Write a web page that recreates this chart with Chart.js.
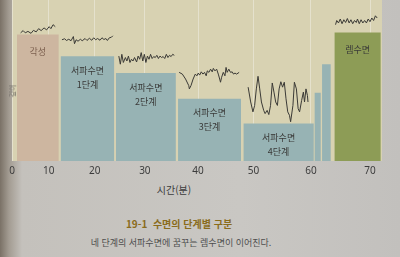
<!DOCTYPE html>
<html lang="ko">
<head>
<meta charset="utf-8">
<script src="https://cdn.jsdelivr.net/npm/chart.js@4.4.1/dist/chart.umd.min.js"></script>
<style>
    html, body {
        margin: 0;
        width: 400px;
        height: 257px;
        overflow: hidden;
    }
    body {
        position: relative;
        font-family: "Noto Sans CJK KR", "Noto Sans", sans-serif;
        background: linear-gradient(to right, #7a7166 0px, #a39c92 9px, #c4c1bc 22px, #c9c7c3 60%, #c2c0bd 100%);
    }
    #plot {
        position: absolute;
        left: 0;
        top: 0;
        width: 400px;
        height: 181px;
    }
    .txt {
        position: absolute;
        white-space: nowrap;
        transform: translateX(-50%);
    }
    #ylab {
        left: 12px;
        top: 86px;
        font-size: 7px;
        color: #6b6862;
        transform: translateX(-50%) rotate(-90deg);
    }
    #xlab {
        left: 174px;
        top: 182px;
        font-size: 10px;
        color: #3c3c3c;
    }
    #cap1 {
        left: 179px;
        top: 216px;
        font-size: 10px;
        font-weight: bold;
        color: #8a6c1c;
    }
    #cap2 {
        left: 181px;
        top: 236px;
        font-size: 9px;
        color: #4e4e4e;
    }
</style>
</head>
<body>
<div id="plot"><canvas id="chart"></canvas></div>
<div class="txt" id="ylab">깊이</div>
<div class="txt" id="xlab">시간(분)</div>
<div class="txt" id="cap1">19-1&nbsp; 수면의 단계별 구분</div>
<div class="txt" id="cap2">네 단계의 서파수면에 꿈꾸는 렘수면이 이어진다.</div>

<script>
// Sleep stages: start / end in minutes, level = how "light" the sleep is
const stageNames = ['각성', '서파수면\n1단계', '서파수면\n2단계', '서파수면\n3단계', '서파수면\n4단계', '', '', '렘수면'];
const stageStart = [1.8, 12.7, 24.3, 36.3, 48.2, 60.6, 61.9, 64.0];
const stageEnd = [12.3, 24.0, 35.9, 47.8, 60.5, 61.7, 63.4, 71.8];
const stageLevel = [5.12, 4.24, 3.56, 2.52, 1.52, 2.76, 3.92, 5.2];

const xTicks = [0, 10, 20, 30, 40, 50, 60, 70];

// EEG traces drawn over each stage: [minute, level]
const awakeWave = [[2.9, 5.19], [3.6, 5.28], [4.2, 5.19], [4.9, 5.25], [5.7, 5.17], [6.3, 5.29], [7.0, 5.23], [7.6, 5.36],
    [8.2, 5.28], [8.9, 5.39], [9.5, 5.31], [10.1, 5.44], [10.5, 5.36], [11.0, 5.52], [11.5, 5.44]];
const stage1Wave = [[13.0, 4.91], [13.6, 4.95], [14.0, 4.88], [14.5, 4.93], [15.0, 4.87], [15.5, 5.04], [15.75, 4.75], [16.1, 4.91],
    [16.5, 4.85], [17.0, 4.93], [17.4, 4.87], [18.0, 4.96], [18.4, 4.88], [18.9, 4.97], [19.4, 4.89], [19.8, 4.99],
    [20.2, 4.91], [20.6, 4.96], [21.1, 4.89], [21.5, 4.99], [21.9, 4.92], [22.3, 4.96], [22.6, 4.88], [23.0, 4.99],
    [23.4, 5.01], [23.7, 5.07]];
const stage2Wave = [[24.9, 4.25], [25.2, 3.92], [25.5, 4.32], [25.8, 3.99], [26.2, 4.19], [26.5, 4.05], [26.8, 4.25], [27.1, 3.99],
    [27.4, 4.12], [27.7, 4.05], [28.0, 4.19], [28.4, 4.01], [28.7, 4.25], [29.0, 4.12], [29.3, 4.39], [29.6, 4.05],
    [29.9, 4.32], [30.2, 3.99], [30.5, 4.25], [30.8, 4.12], [31.1, 4.32], [31.4, 4.15], [31.7, 4.23], [32.0, 4.19],
    [32.3, 4.28], [32.6, 4.15], [32.9, 4.25], [33.2, 4.19], [33.5, 4.23], [33.8, 4.15], [34.1, 4.32], [34.4, 4.19],
    [34.7, 4.28], [35.0, 4.23], [35.3, 4.32], [35.6, 4.28]];
const stage3Wave = [[36.5, 3.59], [37.1, 3.52], [37.7, 3.32], [38.3, 3.05], [38.4, 2.92], [38.7, 3.05], [39.1, 3.32], [39.5, 3.52],
    [39.8, 3.45], [40.05, 3.56], [40.3, 3.48], [40.6, 3.61], [40.9, 3.52], [41.2, 3.59], [41.5, 3.45], [41.7, 3.65],
    [42.0, 3.59], [42.3, 3.72], [42.6, 3.61], [42.8, 3.75], [43.1, 3.65], [43.4, 3.72], [43.7, 3.52], [43.95, 3.32],
    [44.1, 3.19], [44.3, 3.39], [44.6, 3.59], [44.9, 3.45], [45.1, 3.79], [45.3, 3.59], [45.6, 3.72], [45.9, 3.59],
    [46.2, 3.61], [46.45, 3.52], [46.7, 3.56], [47.0, 3.52], [47.45, 3.59]];
const stage4Wave = [[49.05, 2.99], [49.5, 2.39], [49.9, 1.99], [50.2, 2.25], [50.5, 2.92], [50.8, 3.43], [51.1, 2.92], [51.4, 2.39],
    [51.8, 2.05], [52.05, 1.92], [52.4, 2.05], [52.7, 1.88], [53.0, 2.25], [53.3, 3.16], [53.6, 2.79], [53.9, 2.39],
    [54.2, 2.25], [54.5, 2.92], [54.8, 3.21], [55.1, 2.99], [55.4, 3.19], [55.7, 2.52], [56.0, 1.99], [56.3, 1.85],
    [56.5, 1.59], [56.9, 2.25], [57.15, 3.19], [57.5, 2.92], [57.8, 2.12], [58.05, 1.99], [58.4, 2.45], [58.7, 2.79],
    [58.9, 2.39], [59.15, 2.92], [59.4, 2.65], [59.5, 2.39]];
const remWave = [[64.2, 5.52], [64.4, 5.69], [64.7, 5.59], [65.0, 5.75], [65.3, 5.56], [65.6, 5.72], [65.9, 5.61], [66.2, 5.77],
    [66.5, 5.59], [66.8, 5.72], [67.1, 5.56], [67.4, 5.69], [67.7, 5.61], [67.9, 5.75], [68.2, 5.56], [68.5, 5.72],
    [68.8, 5.59], [69.1, 5.69], [69.4, 5.59], [69.7, 5.75], [70.0, 5.64], [70.3, 5.79], [70.6, 5.69], [70.9, 5.88],
    [71.2, 5.79]];

// Styles
const AWAKE_COLOR = '#cdb6a0';
const SWS_COLOR = '#97b3b4';
const REM_COLOR = '#8d9c56';
const PLOT_BG = '#d8d2b2';
const WAVE_COLOR = '#3b3a36';
const PAGE_BEND = 1.17; // photo of a curved page: the axis is stretched to the right

// Linear scale with the page curvature of the photo
class PageScale extends Chart.LinearScale {
    getPixelForValue(value) {
        if (value === null || value === undefined || isNaN(value)) return NaN;
        const d = (value - this._startValue) / this._valueRange;
        return this.getPixelForDecimal(Math.sign(d) * Math.pow(Math.abs(d), PAGE_BEND));
    }
    getValueForPixel(pixel) {
        const d = this.getDecimalForPixel(pixel);
        return this._startValue + Math.sign(d) * Math.pow(Math.abs(d), 1 / PAGE_BEND) * this._valueRange;
    }
}
PageScale.id = 'page';
Chart.register(PageScale);

function stageColor(i) {
    if (i === 0) return AWAKE_COLOR;
    if (i === stageNames.length - 1) return REM_COLOR;
    return SWS_COLOR;
}

const datasets = [];

stageNames.forEach((name, i) => {
    datasets.push({
        data: [{ x: stageStart[i], y: stageLevel[i] }, { x: stageEnd[i], y: stageLevel[i] }],
        backgroundColor: stageColor(i),
        borderWidth: 0,
        pointRadius: 0,
        fill: 'origin',
        tension: 0
    });
});

[awakeWave, stage1Wave, stage2Wave, stage3Wave, stage4Wave, remWave].forEach(wave => {
    datasets.push({
        data: wave.map(p => ({ x: p[0], y: p[1] })),
        borderColor: WAVE_COLOR,
        borderWidth: 1,
        pointRadius: 0,
        fill: false,
        tension: 0
    });
});

// Beige plot background
const plotBackground = {
    id: 'plotBackground',
    beforeDraw(chart) {
        const { ctx, chartArea } = chart;
        ctx.save();
        ctx.fillStyle = PLOT_BG;
        ctx.fillRect(chartArea.left, chartArea.top, chartArea.right - chartArea.left, chartArea.bottom - chartArea.top);
        ctx.restore();
    }
};

// Stage names inside the bars
const stageLabels = {
    id: 'stageLabels',
    afterDatasetsDraw(chart) {
        const { ctx, scales } = chart;
        ctx.save();
        ctx.textAlign = 'center';
        ctx.textBaseline = 'middle';
        stageNames.forEach((name, i) => {
            if (!name) return;
            const x = (scales.x.getPixelForValue(stageStart[i]) + scales.x.getPixelForValue(stageEnd[i])) / 2;
            const top = scales.y.getPixelForValue(stageLevel[i]);
            const lines = name.split('\n');
            ctx.font = '9px "Noto Sans CJK KR"';
            ctx.fillStyle = i === 0 ? '#7d6150' : '#3a3a38';
            lines.forEach((line, j) => {
                const offset = lines.length === 1 ? 17 : 14 + j * 14;
                ctx.fillText(line, x, top + offset);
            });
        });
        ctx.restore();
    }
};

new Chart(document.getElementById('chart'), {
    type: 'line',
    data: { datasets: datasets },
    options: {
        responsive: true,
        maintainAspectRatio: false,
        animation: false,
        events: [],
        layout: {
            padding: { left: 12, right: 18, top: 0, bottom: 0 }
        },
        plugins: {
            legend: { display: false },
            tooltip: { enabled: false }
        },
        scales: {
            x: {
                type: 'page',
                min: 0,
                max: 72,
                afterBuildTicks: scale => {
                    scale.ticks = xTicks.map(v => ({ value: v }));
                },
                border: { display: false },
                grid: {
                    color: 'rgba(255, 255, 255, 0.35)',
                    lineWidth: 1,
                    drawTicks: false
                },
                ticks: {
                    color: '#3c3c3c',
                    padding: 4,
                    maxRotation: 0,
                    font: {
                        family: '"Noto Sans", sans-serif',
                        size: 10
                    }
                }
            },
            y: {
                display: false,
                min: 0,
                max: 6.52
            }
        }
    },
    plugins: [plotBackground, stageLabels]
});
</script>
</body>
</html>
